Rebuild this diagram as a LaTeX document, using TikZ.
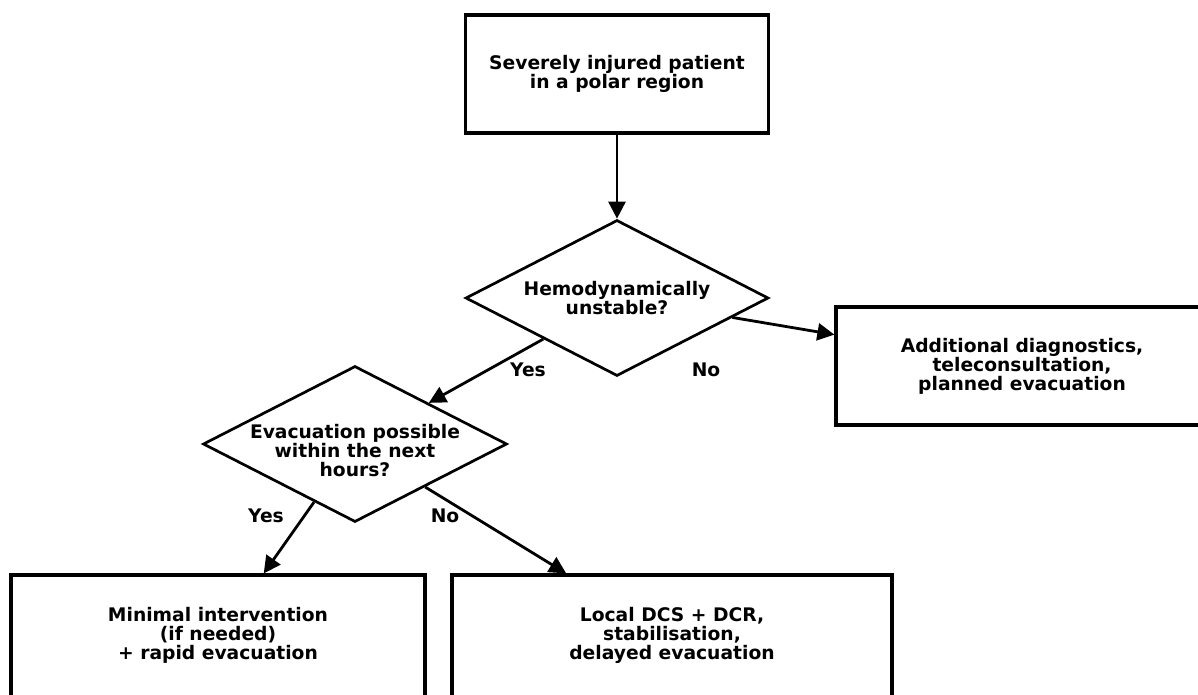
\documentclass[tikz,border=0pt]{standalone}
\usepackage{fontspec}
\setmainfont{DejaVu Sans}
\usetikzlibrary{arrows.meta,shapes.geometric}
\begin{document}
\begin{tikzpicture}[x=1pt,y=-1pt,
  txt/.style={font=\fontsize{18.7}{19}\selectfont\bfseries, align=center, inner sep=0pt},
  box/.style={draw, line width=3.2pt, rectangle, inner sep=0pt},
  decision/.style={draw, line width=2.7pt, diamond, inner sep=0pt},
  arrow/.style={line width=2.8pt, -{Triangle[length=17pt,width=17pt]}}]
\useasboundingbox (0,0) rectangle (1198,694);
\clip (0,0) rectangle (1198,694);
% boxes
\node[box, minimum width=303pt, minimum height=118pt] (top) at (617,74) {};
\node[txt] (toptxt) at (617,74) {Severely injured patient\\in a polar region};
\node[decision, minimum width=303pt, minimum height=156pt] (d1) at (617,298) {};
\node[txt] (d1txt) at (617,298) {Hemodynamically\\unstable?};
\node[box, minimum width=372pt, minimum height=118pt] (right) at (1022,366) {};
\node[txt] (righttxt) at (1022,366) {Additional diagnostics,\\teleconsultation,\\planned evacuation};
\node[decision, minimum width=304pt, minimum height=156pt] (d2) at (355,444) {};
\node[txt] (d2txt) at (355,451) {Evacuation possible\\within the next\\hours?};
\node[box, minimum width=414pt, minimum height=127pt] (bl) at (218,638.5) {};
\node[txt] (bltxt) at (218,635.5) {Minimal intervention\\(if needed)\\+ rapid evacuation};
\node[box, minimum width=440pt, minimum height=127pt] (br) at (672,638.5) {};
\node[txt] (brtxt) at (672,635.5) {Local DCS + DCR,\\stabilisation,\\delayed evacuation};
% connectors
\draw[arrow] (top) -- (d1);
\draw[arrow] (d1) -- (d2);
\draw[arrow] (d1) -- (right);
\draw[arrow] (d2) -- (bl);
\draw[arrow] (d2) -- (br);
% labels
\node[txt] (l1) at (528,370) {Yes};
\node[txt] (l2) at (706,370) {No};
\node[txt] (l3) at (266,516) {Yes};
\node[txt] (l4) at (445,516) {No};
\end{tikzpicture}
\end{document}
